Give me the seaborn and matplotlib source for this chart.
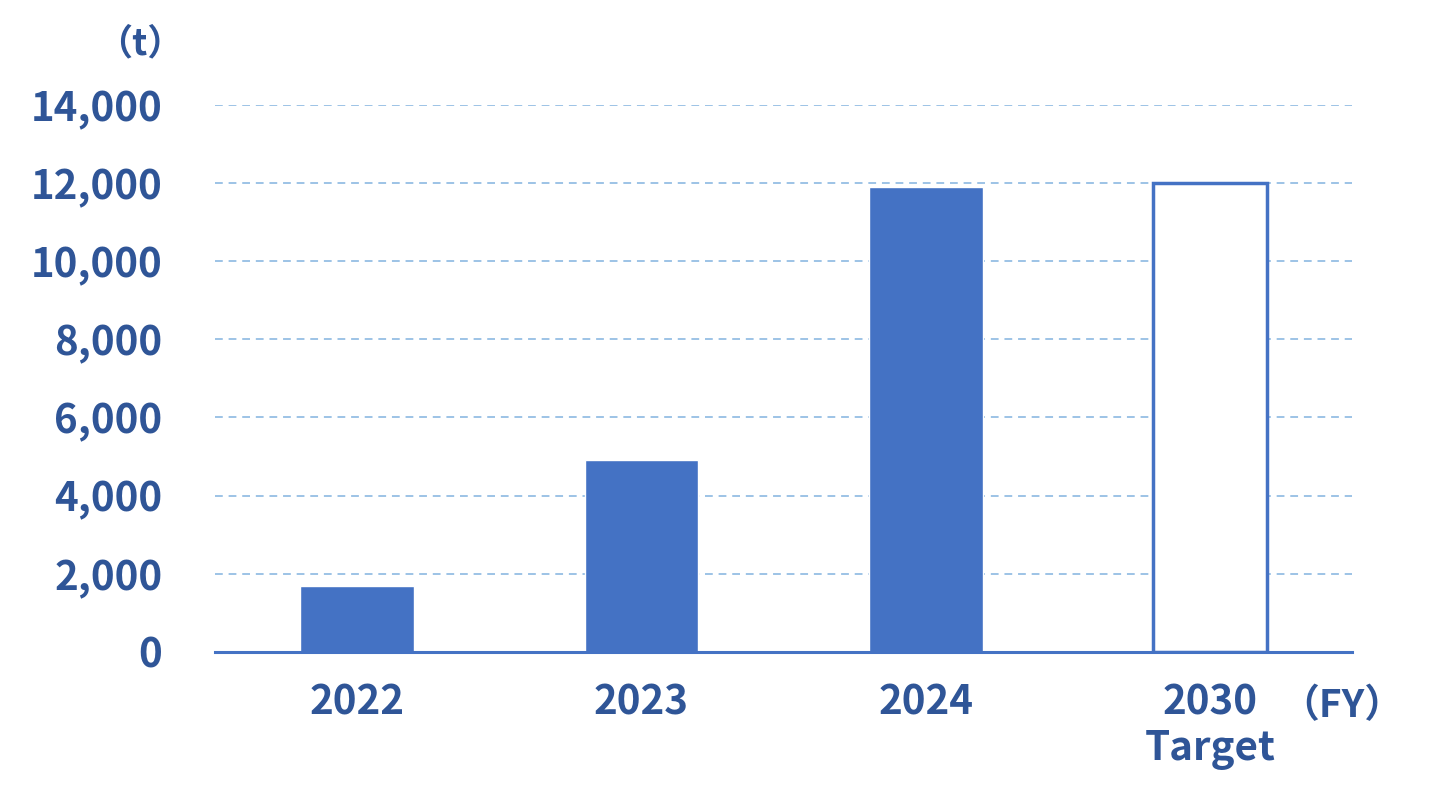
import matplotlib
matplotlib.use('Agg')
import matplotlib.pyplot as plt
import seaborn as sns
import pandas as pd

# Datos del gráfico
years = ['2022', '2023', '2024', '2030\nTarget']
values = [1700, 4900, 11900, 12000]
y_ticks = [0, 2000, 4000, 6000, 8000, 10000, 12000, 14000]

bar_color = '#4472C4'
text_color = '#2F5597'
grid_color = '#9DC3E6'

sns.set_theme(style='white')
plt.rcParams['font.family'] = ['Noto Sans CJK JP', 'DejaVu Sans']

df = pd.DataFrame({'year': years, 'value': values})

fig = plt.figure(figsize=(14.43, 8), dpi=100)
ax = fig.add_axes([0.149, 0.185, 0.788, 0.684])

sns.barplot(data=df, x='year', y='value', color=bar_color, width=0.4,
            saturation=1, ax=ax, zorder=3)

# la barra objetivo va vacía
target = ax.patches[3]
target.set_facecolor('white')
target.set_edgecolor(bar_color)
target.set_linewidth(2.5)

ax.set_xlim(-0.5, 3.5)
ax.set_ylim(0, 14000)
ax.set_yticks(y_ticks)
ax.set_yticklabels([f'{v:,}' for v in y_ticks])
ax.set_xlabel('')
ax.set_ylabel('')

for yv in y_ticks[1:]:
    ax.axhline(yv, color=grid_color, linestyle=(0, (4, 3)), linewidth=1.4, zorder=1)

for s in ['top', 'right', 'left']:
    ax.spines[s].set_visible(False)
ax.spines['bottom'].set_color(bar_color)
ax.spines['bottom'].set_linewidth(2.2)
ax.spines['bottom'].set_zorder(4)

ax.tick_params(axis='y', length=0, pad=38, labelsize=29, labelcolor=text_color)
ax.tick_params(axis='x', length=0, pad=22, labelsize=29, labelcolor=text_color)
for lbl in ax.get_xticklabels() + ax.get_yticklabels():
    lbl.set_fontweight('bold')
for lbl in ax.get_xticklabels():
    lbl.set_linespacing(1.15)
    lbl.set_verticalalignment('top')

fig.text(0.097, 0.945, '（t）', color=text_color, fontsize=26, fontweight='bold',
         ha='center', va='center')
fig.text(0.93, 0.118, '（FY）', color=text_color, fontsize=28, fontweight='bold',
         ha='center', va='center')

fig.savefig('out.png', dpi=100)
